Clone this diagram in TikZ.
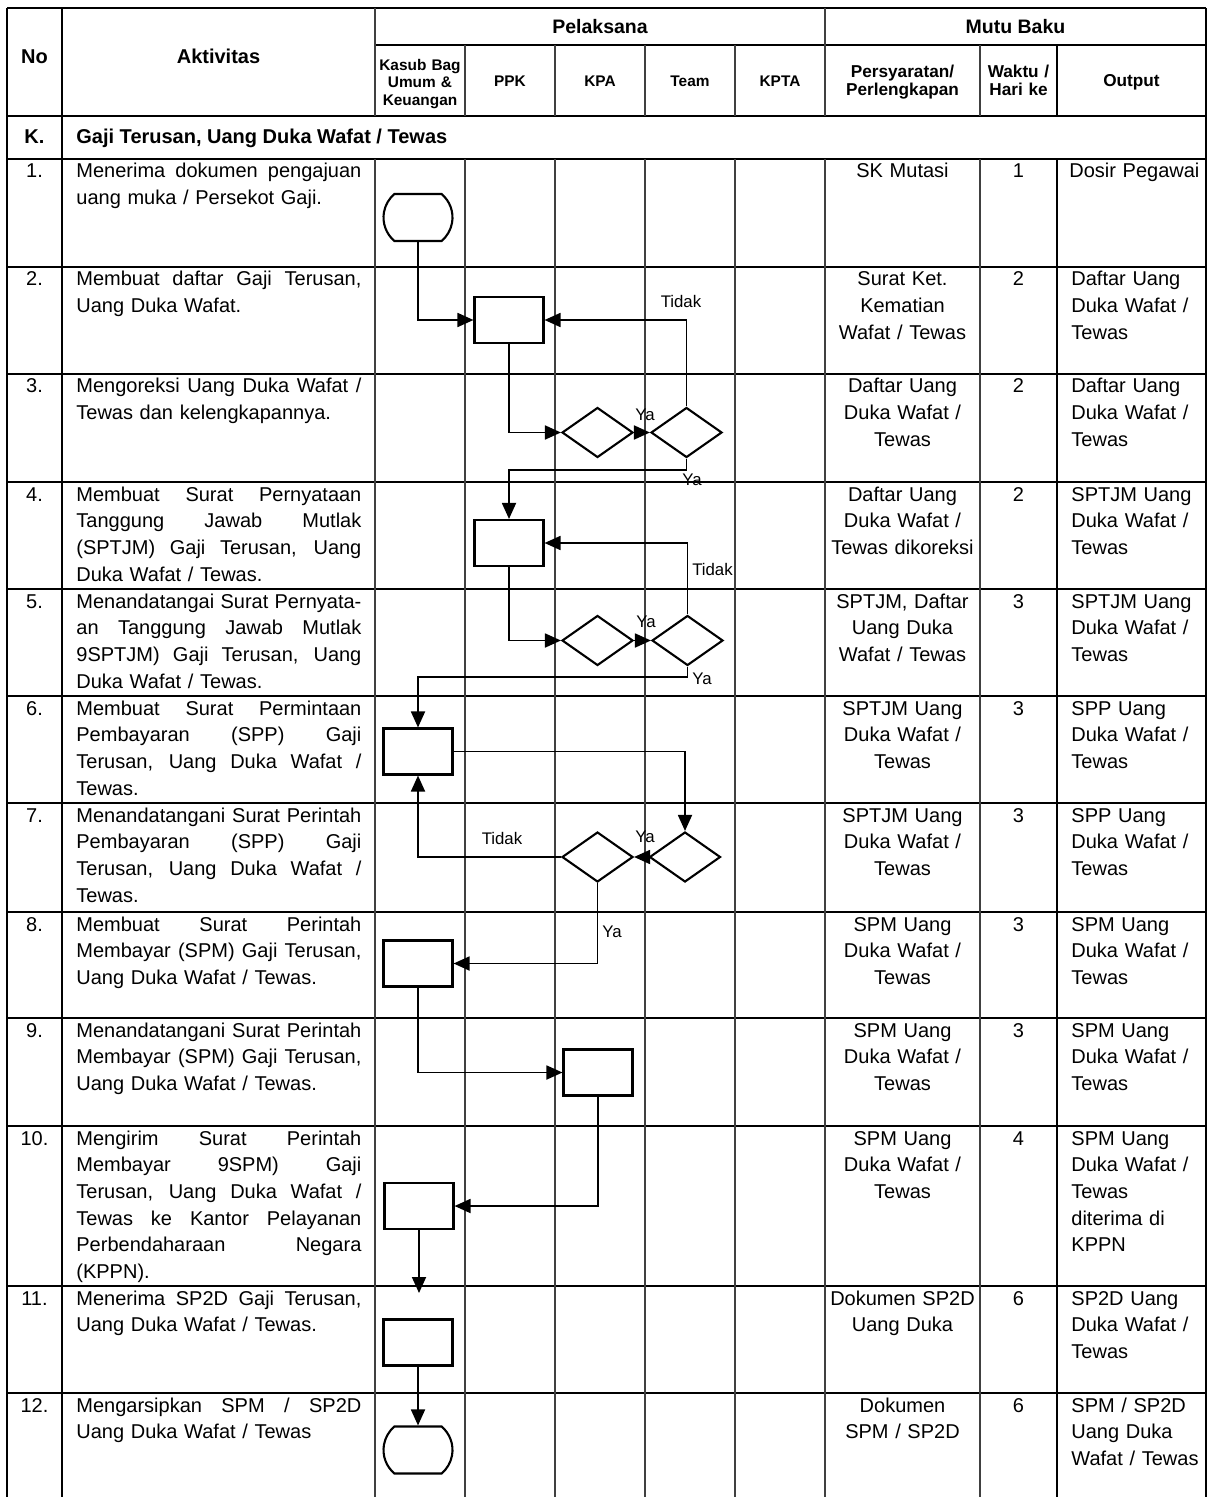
\documentclass[tikz,border=0pt]{standalone}
\usepackage{fontspec}
\setmainfont{Liberation Sans}
\usetikzlibrary{shapes.geometric,shapes.misc,arrows.meta}

% width of the activity text column, and a justified line of it
\newlength\actw
\setlength\actw{142.5pt}
\newcommand\jl[1]{{\spaceskip=0pt\xspaceskip=0pt\makebox[\actw][s]{#1}}}

\begin{document}
\begin{tikzpicture}[x=0.5pt,y=-0.5pt,
  heavy/.style={line width=1pt},
  light/.style={line width=0.55pt,black!75},
  proc/.style={rectangle,draw,line width=1.05pt,minimum width=34.5pt,minimum height=23pt,inner sep=0pt},
  term/.style={rounded rectangle,rounded rectangle arc length=100,draw,line width=1.05pt,
               minimum width=34.5pt,minimum height=23.5pt,inner sep=0pt},
  dec/.style={diamond,draw,line width=1.05pt,minimum width=35.5pt,minimum height=25pt,inner sep=0pt},
  flow/.style={line width=0.9pt},
  conn/.style={flow,-{Triangle[length=8pt,width=7pt]}},
  lbl/.style={font=\fontsize{8.4pt}{10pt}\selectfont,inner sep=0pt},
  body/.style={font=\fontsize{10pt}{13.35pt}\selectfont,inner sep=0pt},
  num/.style={body,anchor=base},
  act/.style={body,text width=\actw,align=left,anchor=base west},
  req/.style={body,text width=76pt,align=center,anchor=base},
  outp/.style={body,text width=68pt,align=left,anchor=base west},
  hdr/.style={font=\fontsize{10pt}{12pt}\selectfont\bfseries,inner sep=0pt},
  hdrtop/.style={font=\fontsize{9.75pt}{12pt}\selectfont\bfseries,inner sep=0pt,anchor=base},
  lane/.style={font=\fontsize{7.7pt}{8.75pt}\selectfont\bfseries,inner sep=0pt,text width=45pt,align=center,anchor=base},
  mhdr/.style={font=\fontsize{8.6pt}{9pt}\selectfont\bfseries,inner sep=0pt,align=center,anchor=base},
]
\useasboundingbox (0,0) rectangle (1212,1497);

% ---------- table rules ----------
\draw[heavy] (7,8) -- (1206,8);
\draw[heavy] (375,45.5) -- (1206,45.5);
\draw[heavy] (7,116) -- (1206,116);
\draw[heavy] (7,159) -- (1206,159);
\foreach \y in {267,482,589,696,803,1018,1126,1286,1393}
  \draw[heavy] (7,\y) -- (1206,\y);
\foreach \y in {374,912}
  \draw[light,black] (7,\y) -- (1206,\y);

\draw[heavy] (7,8) -- (7,1497);
\draw[heavy] (1206,8) -- (1206,1497);
\draw[heavy] (62,8) -- (62,1497);
\foreach \x in {375,825} {
  \draw[light] (\x,8) -- (\x,116);
  \draw[light] (\x,159) -- (\x,1497);
}
\foreach \x in {465,555,645,735,980} {
  \draw[light] (\x,45.5) -- (\x,116);
  \draw[light] (\x,159) -- (\x,1497);
}
\draw[heavy] (1057,45.5) -- (1057,116);
\draw[heavy] (1057,159) -- (1057,1497);

% ---------- header ----------
\node[hdr,anchor=base] (hNo) at (34.5,64) {No};
\node[hdr,anchor=base] (hAkt) at (218.5,64) {Aktivitas};
\node[hdrtop] (hPel) at (600,34) {Pelaksana};
\node[hdrtop] (hMutu) at (1015.5,34) {Mutu Baku};
\node[lane] (hKasub) at (420,70.4) {Kasub Bag\\Umum \&\\Keuangan};
\node[lane] (hPPK) at (510,86.3) {PPK};
\node[lane] (hKPA) at (600,86.3) {KPA};
\node[lane] (hTeam) at (690,86.3) {Team};
\node[lane] (hKPTA) at (780,86.3) {KPTA};
\node[mhdr,text width=76pt] (hReq) at (902.5,78) {Persyaratan/\\Perlengkapan};
\node[mhdr,text width=38pt] (hTime) at (1018.5,78) {Waktu /\\Hari ke};
\node[mhdr,text width=70pt] (hOut) at (1131.5,87) {Output};

\node[hdr,anchor=base] (kNo) at (34.5,144) {K.};
\node[hdr,anchor=base west] (kTitle) at (76,144) {Gaji Terusan, Uang Duka Wafat / Tewas};

% ---------- rows ----------
% row 1
\node[num] (n1) at (34.5,178) {1.};
\node[act] (a1) at (76,178) {\jl{Menerima dokumen pengajuan}\\uang muka / Persekot Gaji.};
\node[req] (p1) at (902.5,178) {SK Mutasi};
\node[num] (w1) at (1018.5,178) {1};
\node[outp] (o1) at (1069,178) {Dosir Pegawai};
% row 2
\node[num] (n2) at (34.5,286) {2.};
\node[act] (a2) at (76,286) {\jl{Membuat daftar Gaji Terusan,}\\Uang Duka Wafat.};
\node[req] (p2) at (902.5,286) {Surat Ket.\\Kematian\\Wafat / Tewas};
\node[num] (w2) at (1018.5,286) {2};
\node[outp] (o2) at (1071,286) {Daftar Uang\\Duka Wafat /\\Tewas};
% row 3
\node[num] (n3) at (34.5,393) {3.};
\node[act] (a3) at (76,393) {\jl{Mengoreksi Uang Duka Wafat /}\\Tewas dan kelengkapannya.};
\node[req] (p3) at (902.5,393) {Daftar Uang\\Duka Wafat /\\Tewas};
\node[num] (w3) at (1018.5,393) {2};
\node[outp] (o3) at (1071,393) {Daftar Uang\\Duka Wafat /\\Tewas};
% row 4
\node[num] (n4) at (34.5,501) {4.};
\node[act] (a4) at (76,501) {\jl{Membuat Surat Pernyataan}\\\jl{Tanggung Jawab Mutlak}\\\jl{(SPTJM) Gaji Terusan, Uang}\\Duka Wafat / Tewas.};
\node[req] (p4) at (902.5,501) {Daftar Uang\\Duka Wafat /\\Tewas dikoreksi};
\node[num] (w4) at (1018.5,501) {2};
\node[outp] (o4) at (1071,501) {SPTJM Uang\\Duka Wafat /\\Tewas};
% row 5
\node[num] (n5) at (34.5,608) {5.};
\node[act] (a5) at (76,608) {\jl{Menandatangai Surat Pernyata-}\\\jl{an Tanggung Jawab Mutlak}\\\jl{9SPTJM) Gaji Terusan, Uang}\\Duka Wafat / Tewas.};
\node[req] (p5) at (902.5,608) {SPTJM, Daftar\\Uang Duka\\Wafat / Tewas};
\node[num] (w5) at (1018.5,608) {3};
\node[outp] (o5) at (1071,608) {SPTJM Uang\\Duka Wafat /\\Tewas};
% row 6
\node[num] (n6) at (34.5,715) {6.};
\node[act] (a6) at (76,715) {\jl{Membuat Surat Permintaan}\\\jl{Pembayaran (SPP) Gaji}\\\jl{Terusan, Uang Duka Wafat /}\\Tewas.};
\node[req] (p6) at (902.5,715) {SPTJM Uang\\Duka Wafat /\\Tewas};
\node[num] (w6) at (1018.5,715) {3};
\node[outp] (o6) at (1071,715) {SPP Uang\\Duka Wafat /\\Tewas};
% row 7
\node[num] (n7) at (34.5,822) {7.};
\node[act] (a7) at (76,822) {\jl{Menandatangani Surat Perintah}\\\jl{Pembayaran (SPP) Gaji}\\\jl{Terusan, Uang Duka Wafat /}\\Tewas.};
\node[req] (p7) at (902.5,822) {SPTJM Uang\\Duka Wafat /\\Tewas};
\node[num] (w7) at (1018.5,822) {3};
\node[outp] (o7) at (1071,822) {SPP Uang\\Duka Wafat /\\Tewas};
% row 8
\node[num] (n8) at (34.5,931) {8.};
\node[act] (a8) at (76,931) {\jl{Membuat Surat Perintah}\\\jl{Membayar (SPM) Gaji Terusan,}\\Uang Duka Wafat / Tewas.};
\node[req] (p8) at (902.5,931) {SPM Uang\\Duka Wafat /\\Tewas};
\node[num] (w8) at (1018.5,931) {3};
\node[outp] (o8) at (1071,931) {SPM Uang\\Duka Wafat /\\Tewas};
% row 9
\node[num] (n9) at (34.5,1037) {9.};
\node[act] (a9) at (76,1037) {\jl{Menandatangani Surat Perintah}\\\jl{Membayar (SPM) Gaji Terusan,}\\Uang Duka Wafat / Tewas.};
\node[req] (p9) at (902.5,1037) {SPM Uang\\Duka Wafat /\\Tewas};
\node[num] (w9) at (1018.5,1037) {3};
\node[outp] (o9) at (1071,1037) {SPM Uang\\Duka Wafat /\\Tewas};
% row 10
\node[num] (n10) at (34.5,1145) {10.};
\node[act] (a10) at (76,1145) {\jl{Mengirim Surat Perintah}\\\jl{Membayar 9SPM) Gaji}\\\jl{Terusan, Uang Duka Wafat /}\\\jl{Tewas ke Kantor Pelayanan}\\\jl{Perbendaharaan Negara}\\(KPPN).};
\node[req] (p10) at (902.5,1145) {SPM Uang\\Duka Wafat /\\Tewas};
\node[num] (w10) at (1018.5,1145) {4};
\node[outp] (o10) at (1071,1145) {SPM Uang\\Duka Wafat /\\Tewas\\diterima di\\KPPN};
% row 11
\node[num] (n11) at (34.5,1305) {11.};
\node[act] (a11) at (76,1305) {\jl{Menerima SP2D Gaji Terusan,}\\Uang Duka Wafat / Tewas.};
\node[req] (p11) at (902.5,1305) {Dokumen SP2D\\Uang Duka};
\node[num] (w11) at (1018.5,1305) {6};
\node[outp] (o11) at (1071,1305) {SP2D Uang\\Duka Wafat /\\Tewas};
% row 12
\node[num] (n12) at (34.5,1412) {12.};
\node[act] (a12) at (76,1412) {\jl{Mengarsipkan SPM / SP2D}\\Uang Duka Wafat / Tewas};
\node[req] (p12) at (902.5,1412) {Dokumen\\SPM / SP2D};
\node[num] (w12) at (1018.5,1412) {6};
\node[outp] (o12) at (1071,1412) {SPM / SP2D\\Uang Duka\\Wafat / Tewas};

% ---------- flow shapes ----------
\node[term] (t1) at (418,217.5) {};
\node[proc] (b2) at (509,320) {};
\node[dec] (d3a) at (597.5,432.5) {};
\node[dec] (d3b) at (686.5,432.5) {};
\node[proc] (b4) at (509,543) {};
\node[dec] (d5a) at (597.5,640.5) {};
\node[dec] (d5b) at (687.5,640.5) {};
\node[proc] (b6) at (418,751.5) {};
\node[dec] (d7a) at (597.5,857) {};
\node[dec] (d7b) at (685,857) {};
\node[proc] (b8) at (418,963.5) {};
\node[proc] (b9) at (598,1072.5) {};
\node[proc] (b10) at (419,1206) {};
\node[proc] (b11) at (418,1342.5) {};
\node[term] (t12) at (418,1450) {};

\coordinate (k3) at (0,470);
\coordinate (k5) at (0,677);
\coordinate (e10) at (419,1293);

% ---------- connectors ----------
\draw[conn] (t1.south) |- (b2.west);
\draw[conn] (d3b.north) |- (b2.east);
\draw[conn] (b2.south) |- (d3a.west);
\draw[conn] (d3a.east) -- (d3b.west);
\draw[conn] (d3b.south) -- (d3b.south |- k3) -| (b4.north);
\draw[conn] (d5b.north) |- (b4.east);
\draw[conn] (b4.south) |- (d5a.west);
\draw[conn] (d5a.east) -- (d5b.west);
\draw[conn] (d5b.south) -- (d5b.south |- k5) -| (b6.north);
\draw[conn] (b6.east) -| (d7b.north);
\draw[conn] (d7b.west) -- (d7a.east);
\draw[conn] (d7a.west) -| (b6.south);
\draw[conn] (d7a.south) |- (b8.east);
\draw[conn] (b8.south) |- (b9.west);
\draw[conn] (b9.south) |- (b10.east);
\draw[conn] (b10.south) -- (e10);
\draw[conn] (b11.south) -- (t12.north);

% ---------- branch labels ----------
\node[lbl] (l1) at (681,301.5) {Tidak};
\node[lbl] (l2) at (645,415) {Ya};
\node[lbl] (l3) at (692,480) {Ya};
\node[lbl] (l4) at (712.5,569) {Tidak};
\node[lbl] (l5) at (646,622) {Ya};
\node[lbl] (l6) at (702,679) {Ya};
\node[lbl] (l7) at (645,837) {Ya};
\node[lbl] (l8) at (502,838) {Tidak};
\node[lbl] (l9) at (612,932) {Ya};
\end{tikzpicture}
\end{document}
